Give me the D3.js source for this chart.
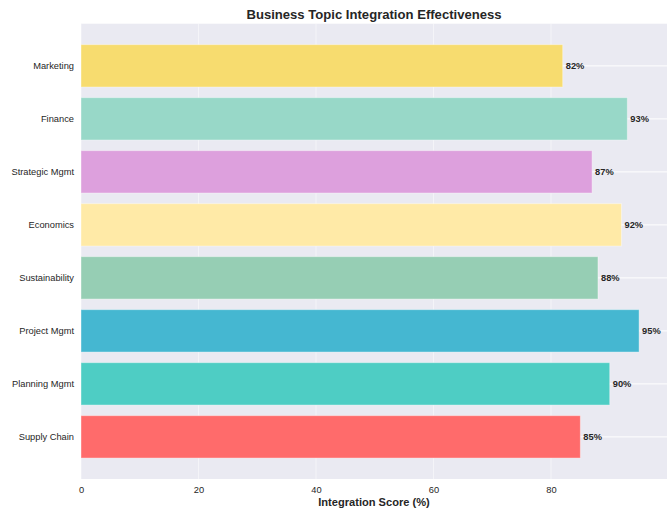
<!DOCTYPE html>
<html>
<head>
<meta charset="utf-8">
<script src="https://cdn.jsdelivr.net/npm/d3@7"></script>
<style>
  html, body { margin: 0; padding: 0; background: #ffffff; }
  svg { display: block; font-family: "Liberation Sans", Arial, sans-serif; }
</style>
</head>
<body>
<script>
// Topics, listed top to bottom, with their integration scores (%)
const topics = ["Marketing", "Finance", "Strategic Mgmt", "Economics",
                "Sustainability", "Project Mgmt", "Planning Mgmt", "Supply Chain"];
const scores = [82, 93, 87, 92, 88, 95, 90, 85];
const barColors = ["#F7DC6F", "#98D8C8", "#DDA0DD", "#FFEAA7",
                   "#96CEB4", "#45B7D1", "#4ECDC4", "#FF6B6B"];
const xTicks = [0, 20, 40, 60, 80];

const W = 672, H = 513;
const margin = { top: 23.7, right: 5, bottom: 34, left: 81 };
const innerW = W - margin.left - margin.right;
const innerH = H - margin.top - margin.bottom;

const svg = d3.select("body").append("svg")
  .attr("width", W).attr("height", H);

const g = svg.append("g")
  .attr("transform", `translate(${margin.left},${margin.top})`);

const x = d3.scaleLinear()
  .domain([0, d3.max(scores) * 1.05])
  .range([0, innerW]);

const y = d3.scaleBand()
  .domain(topics)
  .range([0, innerH])
  .paddingInner(0.2)
  .paddingOuter(0.395);

// plot background
g.append("rect")
  .attr("width", innerW).attr("height", innerH)
  .attr("fill", "#EAEAF2");

// vertical grid
g.append("g")
  .selectAll("line")
  .data(xTicks)
  .join("line")
  .attr("x1", d => x(d)).attr("x2", d => x(d))
  .attr("y1", 0).attr("y2", innerH)
  .attr("stroke", "#ffffff").attr("stroke-opacity", 0.5)
  .attr("stroke-width", 1);

// horizontal grid at each topic
g.append("g")
  .selectAll("line")
  .data(topics)
  .join("line")
  .attr("x1", 0).attr("x2", innerW)
  .attr("y1", d => y(d) + y.bandwidth() / 2)
  .attr("y2", d => y(d) + y.bandwidth() / 2)
  .attr("stroke", "#ffffff").attr("stroke-opacity", 0.8)
  .attr("stroke-width", 1.2);

// bars
g.append("g")
  .selectAll("rect")
  .data(topics)
  .join("rect")
  .attr("x", 0)
  .attr("y", d => y(d))
  .attr("width", (d, i) => x(scores[i]))
  .attr("height", y.bandwidth())
  .attr("fill", (d, i) => barColors[i])
  .attr("stroke", "#ffffff")
  .attr("stroke-opacity", 0.4)
  .attr("stroke-width", 1);

// value labels
g.append("g")
  .selectAll("text")
  .data(topics)
  .join("text")
  .attr("x", (d, i) => x(scores[i]) + 3)
  .attr("y", d => y(d) + y.bandwidth() / 2)
  .attr("dy", "0.35em")
  .attr("font-size", "9.3px")
  .attr("font-weight", "bold")
  .attr("fill", "#262626")
  .text((d, i) => scores[i] + "%");

// y axis labels
const yAxis = g.append("g")
  .call(d3.axisLeft(y).tickSize(0).tickPadding(7));
yAxis.select(".domain").remove();
yAxis.selectAll("text")
  .attr("font-size", "9.3px")
  .attr("font-family", "Liberation Sans, Arial, sans-serif")
  .attr("fill", "#262626");

// x axis labels
const xAxis = g.append("g")
  .attr("transform", `translate(0,${innerH})`)
  .call(d3.axisBottom(x).tickValues(xTicks).tickSize(0).tickPadding(7));
xAxis.select(".domain").remove();
xAxis.selectAll("text")
  .attr("font-size", "9.3px")
  .attr("font-family", "Liberation Sans, Arial, sans-serif")
  .attr("fill", "#262626");

// axis title
svg.append("text")
  .attr("x", margin.left + innerW / 2)
  .attr("y", 506)
  .attr("text-anchor", "middle")
  .attr("font-size", "11.1px")
  .attr("font-weight", "bold")
  .attr("fill", "#262626")
  .text("Integration Score (%)");

// chart title
svg.append("text")
  .attr("x", margin.left + innerW / 2)
  .attr("y", 19)
  .attr("text-anchor", "middle")
  .attr("font-size", "13.1px")
  .attr("font-weight", "bold")
  .attr("fill", "#262626")
  .text("Business Topic Integration Effectiveness");
</script>
</body>
</html>
